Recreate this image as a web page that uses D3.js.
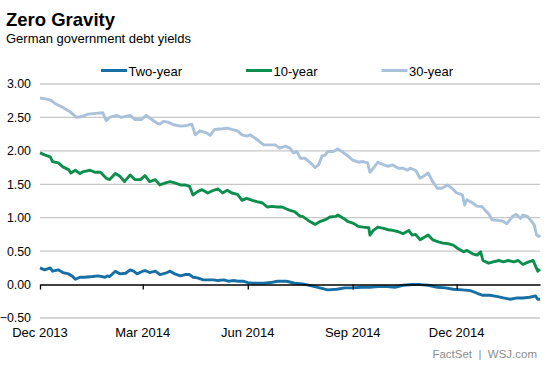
<!DOCTYPE html>
<html>
<head>
<meta charset="utf-8">
<script src="https://cdn.jsdelivr.net/npm/d3@7"></script>
<style>
  html, body { margin: 0; padding: 0; background: #fff; }
  svg { display: block; font-family: "Liberation Sans", Arial, sans-serif; }
</style>
</head>
<body>
<svg id="chart" width="553" height="369"></svg>
<script>
// ---- DATA ----
const title = "Zero Gravity";
const subtitle = "German government debt yields";
const source = "FactSet  |  WSJ.com";
const seriesNames = ["Two-year", "10-year", "30-year"];
const seriesColors = ["#166fa5", "#0c8f4d", "#a9c1da"];
const yTicks = [-0.5, 0, 0.5, 1.0, 1.5, 2.0, 2.5, 3.0];
const xTickDates = ["2013-12-01", "2014-03-01", "2014-06-01", "2014-09-01", "2014-12-01"];
const xDomain = ["2013-12-01", "2015-02-12"];

const twoYear = [
  ["2013-12-01",0.25],["2013-12-05",0.22],["2013-12-10",0.25],["2013-12-12",0.20],["2013-12-17",0.22],
  ["2013-12-21",0.18],["2013-12-26",0.16],["2013-12-29",0.13],["2014-01-01",0.08],["2014-01-05",0.11],
  ["2014-01-09",0.11],["2014-01-16",0.12],["2014-01-21",0.13],["2014-01-27",0.11],["2014-01-29",0.13],
  ["2014-01-31",0.12],["2014-02-05",0.20],["2014-02-09",0.16],["2014-02-14",0.17],["2014-02-18",0.22],
  ["2014-02-21",0.20],["2014-02-24",0.16],["2014-03-01",0.20],["2014-03-03",0.21],["2014-03-07",0.18],
  ["2014-03-12",0.20],["2014-03-16",0.15],["2014-03-21",0.17],["2014-03-25",0.20],["2014-03-29",0.16],
  ["2014-04-03",0.13],["2014-04-07",0.15],["2014-04-11",0.15],["2014-04-14",0.11],["2014-04-18",0.10],
  ["2014-04-23",0.07],["2014-04-27",0.07],["2014-05-02",0.07],["2014-05-06",0.06],["2014-05-11",0.07],
  ["2014-05-15",0.05],["2014-05-19",0.06],["2014-05-24",0.05],["2014-05-28",0.05],["2014-06-01",0.03],
  ["2014-06-06",0.02],["2014-06-10",0.02],["2014-06-15",0.02],["2014-06-21",0.03],["2014-06-27",0.05],
  ["2014-07-05",0.05],["2014-07-12",0.02],["2014-07-19",0.01],["2014-07-27",-0.02],["2014-08-03",-0.05],
  ["2014-08-10",-0.08],["2014-08-18",-0.07],["2014-08-25",-0.05],["2014-09-01",-0.05],["2014-09-09",-0.04],
  ["2014-09-16",-0.04],["2014-09-23",-0.03],["2014-10-01",-0.03],["2014-10-08",-0.04],["2014-10-15",-0.01],
  ["2014-10-23",0.00],["2014-10-30",0.00],["2014-11-06",-0.01],["2014-11-14",-0.04],["2014-11-21",-0.05],
  ["2014-11-28",-0.07],["2014-12-06",-0.08],["2014-12-13",-0.09],["2014-12-19",-0.13],["2014-12-24",-0.16],
  ["2014-12-30",-0.16],["2015-01-06",-0.18],["2015-01-11",-0.20],["2015-01-17",-0.22],["2015-01-23",-0.20],
  ["2015-01-28",-0.20],["2015-02-03",-0.19],["2015-02-08",-0.17],["2015-02-10",-0.22],["2015-02-12",-0.22]
];

const tenYear = [
  ["2013-12-01",1.97],["2013-12-05",1.94],["2013-12-10",1.91],["2013-12-12",1.84],["2013-12-17",1.82],
  ["2013-12-21",1.76],["2013-12-26",1.72],["2013-12-28",1.67],["2014-01-01",1.71],["2014-01-05",1.66],
  ["2014-01-08",1.69],["2014-01-14",1.71],["2014-01-18",1.68],["2014-01-23",1.68],["2014-01-28",1.59],
  ["2014-01-31",1.57],["2014-02-05",1.66],["2014-02-09",1.62],["2014-02-13",1.54],["2014-02-18",1.64],
  ["2014-02-22",1.57],["2014-02-27",1.57],["2014-03-03",1.63],["2014-03-07",1.54],["2014-03-12",1.57],
  ["2014-03-16",1.49],["2014-03-21",1.52],["2014-03-25",1.54],["2014-03-29",1.52],["2014-04-03",1.49],
  ["2014-04-07",1.49],["2014-04-11",1.47],["2014-04-14",1.34],["2014-04-18",1.39],["2014-04-22",1.42],
  ["2014-04-27",1.37],["2014-05-02",1.41],["2014-05-06",1.43],["2014-05-10",1.37],["2014-05-14",1.41],
  ["2014-05-18",1.37],["2014-05-23",1.35],["2014-05-27",1.26],["2014-05-31",1.29],["2014-06-05",1.26],
  ["2014-06-09",1.24],["2014-06-14",1.22],["2014-06-18",1.16],["2014-06-22",1.17],["2014-06-27",1.16],
  ["2014-07-01",1.16],["2014-07-05",1.13],["2014-07-08",1.11],["2014-07-12",1.09],["2014-07-17",1.02],
  ["2014-07-19",1.02],["2014-07-24",0.96],["2014-07-30",0.90],["2014-08-03",0.94],["2014-08-08",0.97],
  ["2014-08-12",1.01],["2014-08-17",1.02],["2014-08-19",1.04],["2014-08-24",0.99],["2014-08-28",0.94],
  ["2014-09-01",0.92],["2014-09-06",0.87],["2014-09-10",0.86],["2014-09-15",0.85],["2014-09-16",0.74],
  ["2014-09-19",0.81],["2014-09-23",0.86],["2014-09-28",0.84],["2014-10-02",0.82],["2014-10-06",0.81],
  ["2014-10-11",0.79],["2014-10-15",0.76],["2014-10-20",0.81],["2014-10-23",0.74],["2014-10-26",0.75],
  ["2014-10-30",0.67],["2014-11-02",0.70],["2014-11-06",0.74],["2014-11-10",0.67],["2014-11-15",0.64],
  ["2014-11-19",0.62],["2014-11-24",0.61],["2014-11-28",0.59],["2014-12-02",0.54],["2014-12-07",0.49],
  ["2014-12-10",0.51],["2014-12-15",0.46],["2014-12-19",0.44],["2014-12-22",0.49],["2014-12-24",0.36],
  ["2014-12-29",0.32],["2015-01-02",0.34],["2015-01-07",0.36],["2015-01-11",0.34],["2015-01-15",0.36],
  ["2015-01-20",0.34],["2015-01-24",0.36],["2015-01-28",0.30],["2015-02-02",0.34],["2015-02-06",0.36],
  ["2015-02-08",0.28],["2015-02-10",0.20],["2015-02-12",0.23]
];

const thirtyYear = [
  ["2013-12-01",2.79],["2013-12-08",2.77],["2013-12-11",2.75],["2013-12-15",2.70],["2013-12-21",2.65],
  ["2013-12-27",2.59],["2014-01-02",2.50],["2014-01-06",2.51],["2014-01-12",2.55],["2014-01-19",2.56],
  ["2014-01-25",2.57],["2014-01-28",2.45],["2014-01-31",2.50],["2014-02-06",2.53],["2014-02-10",2.50],
  ["2014-02-18",2.53],["2014-02-22",2.47],["2014-02-28",2.47],["2014-03-04",2.53],["2014-03-08",2.48],
  ["2014-03-14",2.41],["2014-03-16",2.40],["2014-03-19",2.44],["2014-03-23",2.43],["2014-03-28",2.39],
  ["2014-04-03",2.37],["2014-04-09",2.38],["2014-04-13",2.40],["2014-04-16",2.24],["2014-04-20",2.30],
  ["2014-04-26",2.27],["2014-04-29",2.23],["2014-05-03",2.32],["2014-05-10",2.33],["2014-05-14",2.34],
  ["2014-05-18",2.32],["2014-05-23",2.30],["2014-05-27",2.24],["2014-05-31",2.22],["2014-06-03",2.24],
  ["2014-06-09",2.17],["2014-06-15",2.09],["2014-06-21",2.09],["2014-06-25",2.09],["2014-06-29",2.04],
  ["2014-07-04",2.07],["2014-07-08",2.04],["2014-07-11",1.97],["2014-07-14",1.99],["2014-07-17",1.89],
  ["2014-07-21",1.89],["2014-07-26",1.82],["2014-07-30",1.75],["2014-08-02",1.79],["2014-08-05",1.92],
  ["2014-08-08",1.94],["2014-08-10",1.99],["2014-08-15",1.99],["2014-08-19",2.03],["2014-08-24",1.97],
  ["2014-08-28",1.92],["2014-09-01",1.86],["2014-09-06",1.83],["2014-09-10",1.84],["2014-09-14",1.82],
  ["2014-09-16",1.68],["2014-09-19",1.74],["2014-09-23",1.83],["2014-09-28",1.79],["2014-10-02",1.77],
  ["2014-10-06",1.79],["2014-10-11",1.74],["2014-10-15",1.74],["2014-10-19",1.71],["2014-10-21",1.74],
  ["2014-10-26",1.71],["2014-10-30",1.59],["2014-11-03",1.63],["2014-11-06",1.67],["2014-11-10",1.54],
  ["2014-11-14",1.44],["2014-11-18",1.44],["2014-11-23",1.49],["2014-11-27",1.44],["2014-12-01",1.37],
  ["2014-12-06",1.34],["2014-12-08",1.19],["2014-12-10",1.27],["2014-12-15",1.22],["2014-12-19",1.17],
  ["2014-12-23",1.17],["2014-12-26",1.11],["2014-12-29",1.06],["2015-01-01",0.97],["2015-01-06",0.96],
  ["2015-01-10",0.95],["2015-01-14",0.91],["2015-01-19",1.02],["2015-01-22",1.05],["2015-01-26",0.99],
  ["2015-01-28",1.04],["2015-02-01",1.02],["2015-02-04",0.96],["2015-02-07",0.89],["2015-02-09",0.74],
  ["2015-02-11",0.72],["2015-02-12",0.74]
];

// ---- CHART ----
const parse = d3.utcParse("%Y-%m-%d");
const svg = d3.select("#chart");
const margin = { left: 40, right: 13, top: 84, bottom: 51 };
const W = 553, H = 369;

const x = d3.scaleUtc().domain(xDomain.map(parse)).range([margin.left, W - margin.right]);
const y = d3.scaleLinear().domain([-0.5, 3.0]).range([H - margin.bottom, margin.top]);

// title
svg.append("text").attr("x", 6).attr("y", 26)
  .style("font-size", "18.5px").style("font-weight", "bold").attr("fill", "#000").text(title);
svg.append("text").attr("x", 6).attr("y", 43)
  .style("font-size", "13px").attr("fill", "#000").text(subtitle);

// gridlines
svg.append("g").selectAll("line").data(yTicks.filter(d => d !== 0)).join("line")
  .attr("x1", margin.left).attr("x2", W - margin.right)
  .attr("y1", d => y(d)).attr("y2", d => y(d))
  .attr("stroke", "#c8c8c8").attr("stroke-width", 1.3);

// y labels
svg.append("g").selectAll("text").data(yTicks).join("text")
  .attr("x", 31).attr("y", d => y(d)).attr("dy", "0.36em")
  .attr("text-anchor", "end").style("font-size", "12.4px").attr("fill", "#000")
  .text(d3.format(".2f"));

// series lines
const line = d3.line().x(d => x(parse(d[0]))).y(d => y(d[1]));
const allSeries = [thirtyYear, tenYear, twoYear];
const allColors = [seriesColors[2], seriesColors[1], seriesColors[0]];
allSeries.forEach((s, i) => {
  svg.append("path").datum(s).attr("d", line)
    .attr("fill", "none").attr("stroke", allColors[i])
    .attr("stroke-width", 2.9).attr("stroke-linejoin", "round");
});

// x axis along zero
const xAxis = d3.axisBottom(x)
  .tickValues(xTickDates.map(parse))
  .tickSizeInner(5).tickSizeOuter(0)
  .tickFormat(() => "");
const gx = svg.append("g").attr("transform", `translate(0,${y(0)})`).call(xAxis);
gx.select(".domain").attr("stroke", "#000").attr("stroke-width", 1.6);
gx.selectAll(".tick line").attr("stroke", "#000").attr("stroke-width", 1.3);

// x labels
const fmt = d3.utcFormat("%b %Y");
svg.append("g").selectAll("text").data(xTickDates.map(parse)).join("text")
  .attr("x", d => x(d)).attr("y", 337)
  .attr("text-anchor", "middle").style("font-size", "13px").attr("fill", "#000")
  .text(d => fmt(d));

// legend
const legendX = [101, 246, 381.5];
const lg = svg.append("g");
seriesNames.forEach((n, i) => {
  lg.append("line").attr("x1", legendX[i]).attr("x2", legendX[i] + 26)
    .attr("y1", 70.5).attr("y2", 70.5)
    .attr("stroke", seriesColors[i]).attr("stroke-width", 3);
  lg.append("text").attr("x", legendX[i] + 27.5).attr("y", 75.5)
    .style("font-size", "13px").attr("fill", "#000").text(n);
});

// source
svg.append("text").attr("x", 537).attr("y", 357.5).attr("text-anchor", "end")
  .style("font-size", "11.5px").style("white-space", "pre").attr("fill", "#8c8c8c").text(source);
</script>
</body>
</html>
